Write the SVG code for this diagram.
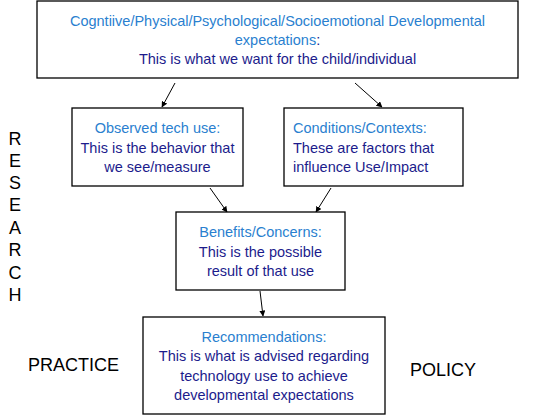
<svg xmlns="http://www.w3.org/2000/svg" width="536" height="415" viewBox="0 0 536 415">
<style>
.box{fill:#fff;stroke:#000;stroke-width:1.3}
.t{font-family:"Liberation Sans",Arial,sans-serif;font-size:14.5px}
.h{fill:#2a7fcf}
.b{fill:#1c1c8c}
.side{font-family:"Liberation Sans",Arial,sans-serif;font-size:18px;fill:#000}
.c{stroke:#000;stroke-width:1;fill:none;marker-end:url(#ah)}
</style>
<defs>
<marker id="ah" viewBox="0 0 10 10" refX="9" refY="5" markerWidth="6" markerHeight="6" orient="auto" markerUnits="userSpaceOnUse">
<path d="M0,0 L10,5 L0,10 z" fill="#000"/>
</marker>
</defs>
<rect width="536" height="415" fill="#fff"/>
<g id="connectors">
<line class="c" x1="175" y1="83" x2="162" y2="107"/>
<line class="c" x1="355" y1="83" x2="382" y2="107"/>
<line class="c" x1="210" y1="188" x2="227" y2="212"/>
<line class="c" x1="331" y1="188" x2="316" y2="212"/>
<line class="c" x1="260" y1="291" x2="263" y2="316"/>
</g>
<g id="expectations">
<rect class="box" x="37" y="1" width="481" height="77"/>
<text class="t h" x="277.5" y="26" text-anchor="middle">Cogntiive/Physical/Psychological/Socioemotional Developmental</text>
<text class="t" x="277.5" y="45" text-anchor="middle"><tspan class="h">expectations</tspan><tspan class="b">:</tspan></text>
<text class="t b" x="277.5" y="64" text-anchor="middle">This is what we want for the child/individual</text>
</g>
<g id="observed">
<rect class="box" x="72" y="108" width="171" height="78"/>
<text class="t h" x="157.5" y="133" text-anchor="middle">Observed tech use:</text>
<text class="t b" x="157.5" y="153" text-anchor="middle">This is the behavior that</text>
<text class="t b" x="157.5" y="172" text-anchor="middle">we see/measure</text>
</g>
<g id="conditions">
<rect class="box" x="284" y="108" width="179" height="78"/>
<text class="t h" x="293" y="133">Conditions/Contexts:</text>
<text class="t b" x="293" y="153">These are factors that</text>
<text class="t b" x="293" y="172">influence Use/Impact</text>
</g>
<g id="benefits">
<rect class="box" x="176" y="212" width="169" height="78"/>
<text class="t h" x="260.5" y="237" text-anchor="middle">Benefits/Concerns:</text>
<text class="t b" x="260.5" y="257" text-anchor="middle">This is the possible</text>
<text class="t b" x="260.5" y="276" text-anchor="middle">result of that use</text>
</g>
<g id="recommendations">
<rect class="box" x="143" y="317" width="242" height="97"/>
<text class="t h" x="264" y="342" text-anchor="middle">Recommendations:</text>
<text class="t b" x="264" y="361" text-anchor="middle">This is what is advised regarding</text>
<text class="t b" x="264" y="381" text-anchor="middle">technology use to achieve</text>
<text class="t b" x="264" y="400" text-anchor="middle">developmental expectations</text>
</g>
<g id="research">
<text class="side" x="15" y="145" text-anchor="middle">R</text>
<text class="side" x="15" y="167" text-anchor="middle">E</text>
<text class="side" x="15" y="189" text-anchor="middle">S</text>
<text class="side" x="15" y="211" text-anchor="middle">E</text>
<text class="side" x="15" y="234" text-anchor="middle">A</text>
<text class="side" x="15" y="256" text-anchor="middle">R</text>
<text class="side" x="15" y="279" text-anchor="middle">C</text>
<text class="side" x="15" y="301" text-anchor="middle">H</text>
</g>
<g id="practice"><text class="side" x="28" y="371">PRACTICE</text></g>
<g id="policy"><text class="side" x="410" y="376">POLICY</text></g>
</svg>
